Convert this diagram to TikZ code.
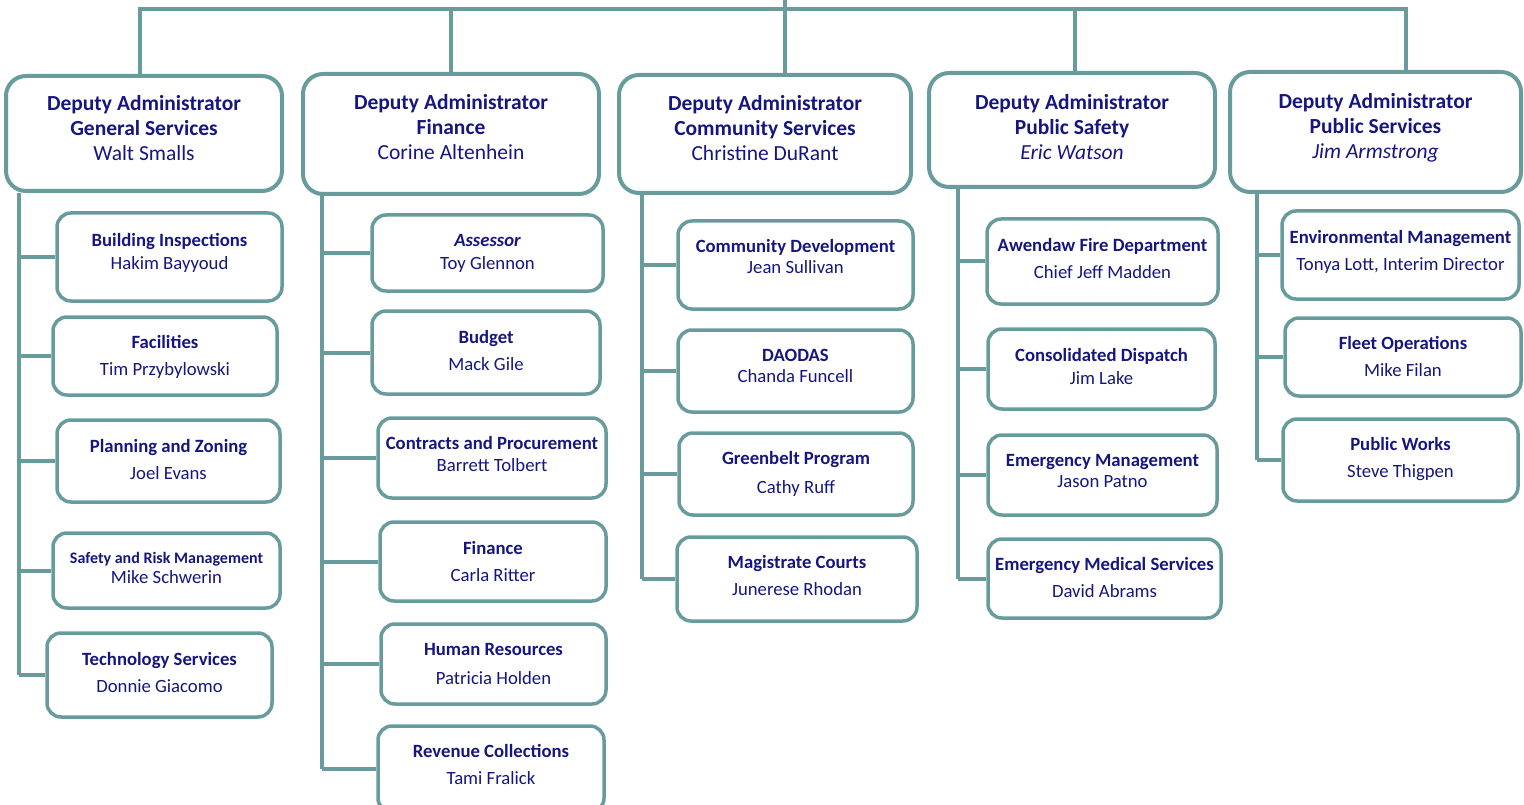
\documentclass[tikz,border=0pt]{standalone}
\usepackage{fontspec}
\setmainfont{Carlito}
\usetikzlibrary{positioning}
\usetikzlibrary{fit}
\definecolor{frame}{RGB}{104,156,156}
\definecolor{ink}{RGB}{22,22,128}
\tikzset{%
  link/.style = {draw=frame, line width=4pt},
  dept/.style = {draw=frame, line width=3.5pt, rounded corners=14pt,
        inner sep=0pt, fill=white},
  head/.style = {dept, line width=4pt, rounded corners=20pt},
  title/.style = {text=ink, inner sep=0pt, anchor=mid, yshift=-4pt,
        font=\fontsize{18.7}{22}\selectfont\bfseries},
  who/.style = {text=ink, inner sep=0pt, anchor=mid, yshift=-4pt,
        font=\fontsize{18.7}{22}\selectfont},
  htitle/.style = {title, font=\fontsize{21.5}{24}\selectfont\bfseries},
  hwho/.style = {who, font=\fontsize{21.5}{24}\selectfont}
}
% name, x1, y1, x2, y2, title, y, person, y
\newcommand\unitbox[9]{%
  \node[dept, fit={(#2,#3) (#4,#5)}] (#1) {};
  \node[title] (#1-t) at ({(#2+#4)/2},#7) {#6};
  \node[who] (#1-p) at ({(#2+#4)/2},#9) {#8};}
% name, x1, y1, x2, y2, y, area, person
\newcommand\headbox[8]{%
  \node[head, fit={(#2,#3) (#4,#5)}] (#1) {};
  \node[htitle] (#1-a) at ({(#2+#4)/2},#6) {Deputy Administrator};
  \node[htitle] (#1-b) at ({(#2+#4)/2},#6+25) {#7};
  \node[hwho] (#1-p) at ({(#2+#4)/2},#6+50) {#8};}

\begin{document}
\begin{tikzpicture}[x=1pt,y=-1pt]
    \useasboundingbox (0,0) rectangle (1524,805);
    \coordinate (root) at (785,0);
    \coordinate (bar) at (785,9);
    % spines
    \coordinate (s1) at (19,0);
    \coordinate (s2) at (322,0);
    \coordinate (s3) at (642,0);
    \coordinate (s4) at (958,0);
    \coordinate (s5) at (1257,0);

    \headbox{gs}{6}{76}{282}{191}{104}{General Services}{Walt Smalls}
    \headbox{fin}{303}{74}{599}{194}{103}{Finance}{Corine Altenhein}
    \headbox{cs}{619}{75}{911}{193}{104}{Community Services}{Christine DuRant}
    \headbox{psf}{929}{73}{1215}{187}{103}{Public Safety}{\itshape Eric Watson}
    \headbox{pub}{1230}{72}{1521}{192}{102}{Public Services}{\itshape Jim Armstrong}

    \unitbox{bi}{57}{213}{282}{301}{Building Inspections}{240}{Hakim Bayyoud}{263}
    \unitbox{fac}{53}{317}{277}{395}{Facilities}{342}{Tim Przybylowski}{369}
    \unitbox{pz}{57}{420}{280}{502}{Planning and Zoning}{446}{Joel Evans}{473}
    \unitbox{srm}{53}{533}{280}{608}{\fontsize{16}{18}\selectfont Safety and Risk Management}{557}{Mike Schwerin}{577}
    \unitbox{ts}{47}{633}{272}{717}{Technology Services}{659}{Donnie Giacomo}{686}

    \unitbox{ass}{372}{215}{603}{291}{\itshape Assessor}{240}{Toy Glennon}{263}
    \unitbox{bud}{372}{311}{600}{394}{Budget}{337}{Mack Gile}{364}
    \unitbox{cp}{378}{418}{606}{498}{Contracts and Procurement}{443}{Barrett Tolbert}{465}
    \unitbox{fn}{380}{522}{606}{601}{Finance}{548}{Carla Ritter}{575}
    \unitbox{hr}{381}{624}{606}{704}{Human Resources}{649}{Patricia Holden}{678}
    \unitbox{rc}{378}{726}{604}{812}{Revenue Collections}{751}{Tami Fralick}{778}

    \unitbox{cd}{678}{221}{913}{309}{Community Development}{246}{Jean Sullivan}{267}
    \unitbox{dao}{678}{330}{913}{412}{DAODAS}{355}{Chanda Funcell}{376}
    \unitbox{gb}{679}{433}{913}{515}{Greenbelt Program}{458}{Cathy Ruff}{487}
    \unitbox{mc}{677}{537}{917}{621}{Magistrate Courts}{562}{Junerese Rhodan}{589}

    \unitbox{afd}{987}{219}{1218}{304}{Awendaw Fire Department}{245}{Chief Jeff Madden}{272}
    \unitbox{cdi}{988}{329}{1215}{409}{Consolidated Dispatch}{355}{Jim Lake}{378}
    \unitbox{em}{988}{435}{1217}{515}{Emergency Management}{460}{Jason Patno}{481}
    \unitbox{ems}{988}{539}{1221}{618}{Emergency Medical Services}{564}{David Abrams}{591}

    \unitbox{env}{1282}{211}{1519}{299}{Environmental Management}{237}{Tonya Lott, Interim Director}{264}
    \unitbox{fo}{1285}{318}{1521}{396}{Fleet Operations}{343}{Mike Filan}{370}
    \unitbox{pw}{1283}{419}{1518}{501}{Public Works}{444}{Steve Thigpen}{471}

    % top bar
    \draw[link] (root) -- ([xshift=20pt]cs.north);
    \draw[link] ([xshift=-4pt]gs.north) |- (bar) -| ([xshift=30pt]pub.north);
    \draw[link] (fin.north) -- (fin.north |- bar);
    \draw[link] ([xshift=3pt]psf.north) -- ([xshift=3pt]psf.north |- bar);

    % spines
    \draw[link] (gs.south -| s1) -- (ts.west -| s1);
    \foreach \b in {bi,fac,pz,srm,ts}
        \draw[link] (\b.west -| s1) -- (\b.west);
    \draw[link] (fin.south -| s2) -- (rc.west -| s2);
    \foreach \b in {ass,bud,cp,fn,hr,rc}
        \draw[link] (\b.west -| s2) -- (\b.west);
    \draw[link] (cs.south -| s3) -- (mc.west -| s3);
    \foreach \b in {cd,dao,gb,mc}
        \draw[link] (\b.west -| s3) -- (\b.west);
    \draw[link] (psf.south -| s4) -- (ems.west -| s4);
    \foreach \b in {afd,cdi,em,ems}
        \draw[link] (\b.west -| s4) -- (\b.west);
    \draw[link] (pub.south -| s5) -- (pw.west -| s5);
    \foreach \b in {env,fo,pw}
        \draw[link] (\b.west -| s5) -- (\b.west);
\end{tikzpicture}
\end{document}
